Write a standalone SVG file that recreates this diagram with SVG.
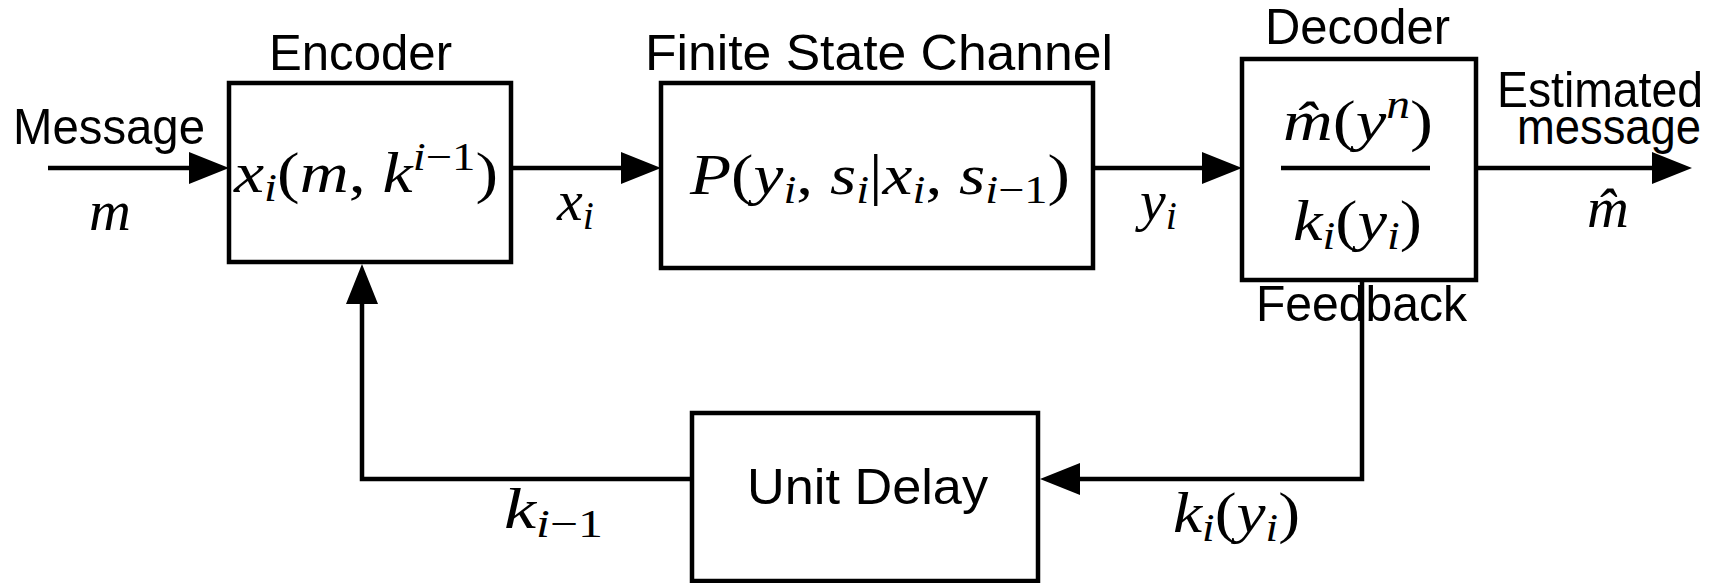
<svg xmlns="http://www.w3.org/2000/svg" width="1736" height="583" viewBox="0 0 1736 583">
<style>
.lbl{font-family:"Liberation Sans",Arial,sans-serif;font-size:50px;fill:#000}
.math{font-family:"Liberation Serif","Times New Roman",serif;font-size:58px;fill:#000}
.it{font-style:italic}
.s{font-size:40px}
.box{fill:#fff;stroke:#000;stroke-width:4.5}
.wire{stroke:#000;stroke-width:4.5;fill:none}
</style>
<defs>
<marker id="ah" markerUnits="userSpaceOnUse" markerWidth="42" markerHeight="34" refX="30" refY="17" orient="auto">
<path d="M0,1 L40,17 L0,33 z" fill="#000"/>
</marker>
</defs>
<rect width="1736" height="583" fill="#fff"/>
<g id="connectors">
<path class="wire" d="M48,168 H219" marker-end="url(#ah)"/>
<path class="wire" d="M511,168 H651" marker-end="url(#ah)"/>
<path class="wire" d="M1093,168 H1232" marker-end="url(#ah)"/>
<path class="wire" d="M1476,168 H1682" marker-end="url(#ah)"/>
<path class="wire" d="M1362,280 V479 H1050" marker-end="url(#ah)"/>
<path class="wire" d="M692,479 H362 V274" marker-end="url(#ah)"/>
</g>
<g id="encoder">
<rect class="box" x="229" y="83" width="282" height="179"/>
<text class="lbl" x="269" y="70" textLength="183" lengthAdjust="spacingAndGlyphs">Encoder</text>
<text class="math" x="234" y="192" textLength="264" lengthAdjust="spacingAndGlyphs"><tspan class="it">x</tspan><tspan class="s it" dy="9">i</tspan><tspan dy="-9">(</tspan><tspan class="it">m</tspan>, <tspan class="it">k</tspan><tspan class="s it" dy="-22">i</tspan><tspan class="s">−1</tspan><tspan dy="22">)</tspan></text>
</g>
<g id="channel">
<rect class="box" x="661" y="83" width="432" height="185"/>
<text class="lbl" x="645" y="70" textLength="468" lengthAdjust="spacingAndGlyphs">Finite State Channel</text>
<text class="math" x="690" y="194" textLength="380" lengthAdjust="spacingAndGlyphs"><tspan class="it">P</tspan>(<tspan class="it">y</tspan><tspan class="s it" dy="9">i</tspan><tspan dy="-9">, </tspan><tspan class="it">s</tspan><tspan class="s it" dy="9">i</tspan><tspan dy="-9">|</tspan><tspan class="it">x</tspan><tspan class="s it" dy="9">i</tspan><tspan dy="-9">, </tspan><tspan class="it">s</tspan><tspan class="s it" dy="9">i</tspan><tspan class="s">−1</tspan><tspan dy="-9">)</tspan></text>
</g>
<g id="decoder">
<rect class="box" x="1242" y="59" width="234" height="221"/>
<text class="lbl" x="1265" y="44" textLength="185" lengthAdjust="spacingAndGlyphs">Decoder</text>
<line class="wire" x1="1281" y1="168" x2="1430" y2="168"/>
<text class="math" x="1283" y="140" textLength="150" lengthAdjust="spacingAndGlyphs"><tspan class="it">m̂</tspan>(<tspan class="it">y</tspan><tspan class="s it" dy="-22">n</tspan><tspan dy="22">)</tspan></text>
<text class="math" x="1293" y="240" textLength="129" lengthAdjust="spacingAndGlyphs"><tspan class="it">k</tspan><tspan class="s it" dy="9">i</tspan><tspan dy="-9">(</tspan><tspan class="it">y</tspan><tspan class="s it" dy="9">i</tspan><tspan dy="-9">)</tspan></text>
</g>
<g id="unit-delay">
<rect class="box" x="692" y="413" width="346" height="168"/>
<text class="lbl" x="747" y="504" textLength="241" lengthAdjust="spacingAndGlyphs">Unit Delay</text>
</g>
<g id="labels">
<text class="lbl" x="13" y="144" textLength="192" lengthAdjust="spacingAndGlyphs">Message</text>
<text class="math it" x="89" y="230">m</text>
<text class="math" x="557" y="220"><tspan class="it">x</tspan><tspan class="s it" dy="9">i</tspan></text>
<text class="math" x="1140" y="220"><tspan class="it">y</tspan><tspan class="s it" dy="9">i</tspan></text>
<text class="lbl" x="1497" y="107" textLength="206" lengthAdjust="spacingAndGlyphs">Estimated</text>
<text class="lbl" x="1517" y="144" textLength="184" lengthAdjust="spacingAndGlyphs">message</text>
<text class="math it" x="1587" y="227">m̂</text>
<text class="lbl" x="1256" y="321" textLength="211" lengthAdjust="spacingAndGlyphs">Feedback</text>
<text class="math" x="504" y="528" textLength="99" lengthAdjust="spacingAndGlyphs"><tspan class="it">k</tspan><tspan class="s it" dy="9">i</tspan><tspan class="s">−1</tspan></text>
<text class="math" x="1173" y="532" textLength="127" lengthAdjust="spacingAndGlyphs"><tspan class="it">k</tspan><tspan class="s it" dy="9">i</tspan><tspan dy="-9">(</tspan><tspan class="it">y</tspan><tspan class="s it" dy="9">i</tspan><tspan dy="-9">)</tspan></text>
</g>
</svg>
